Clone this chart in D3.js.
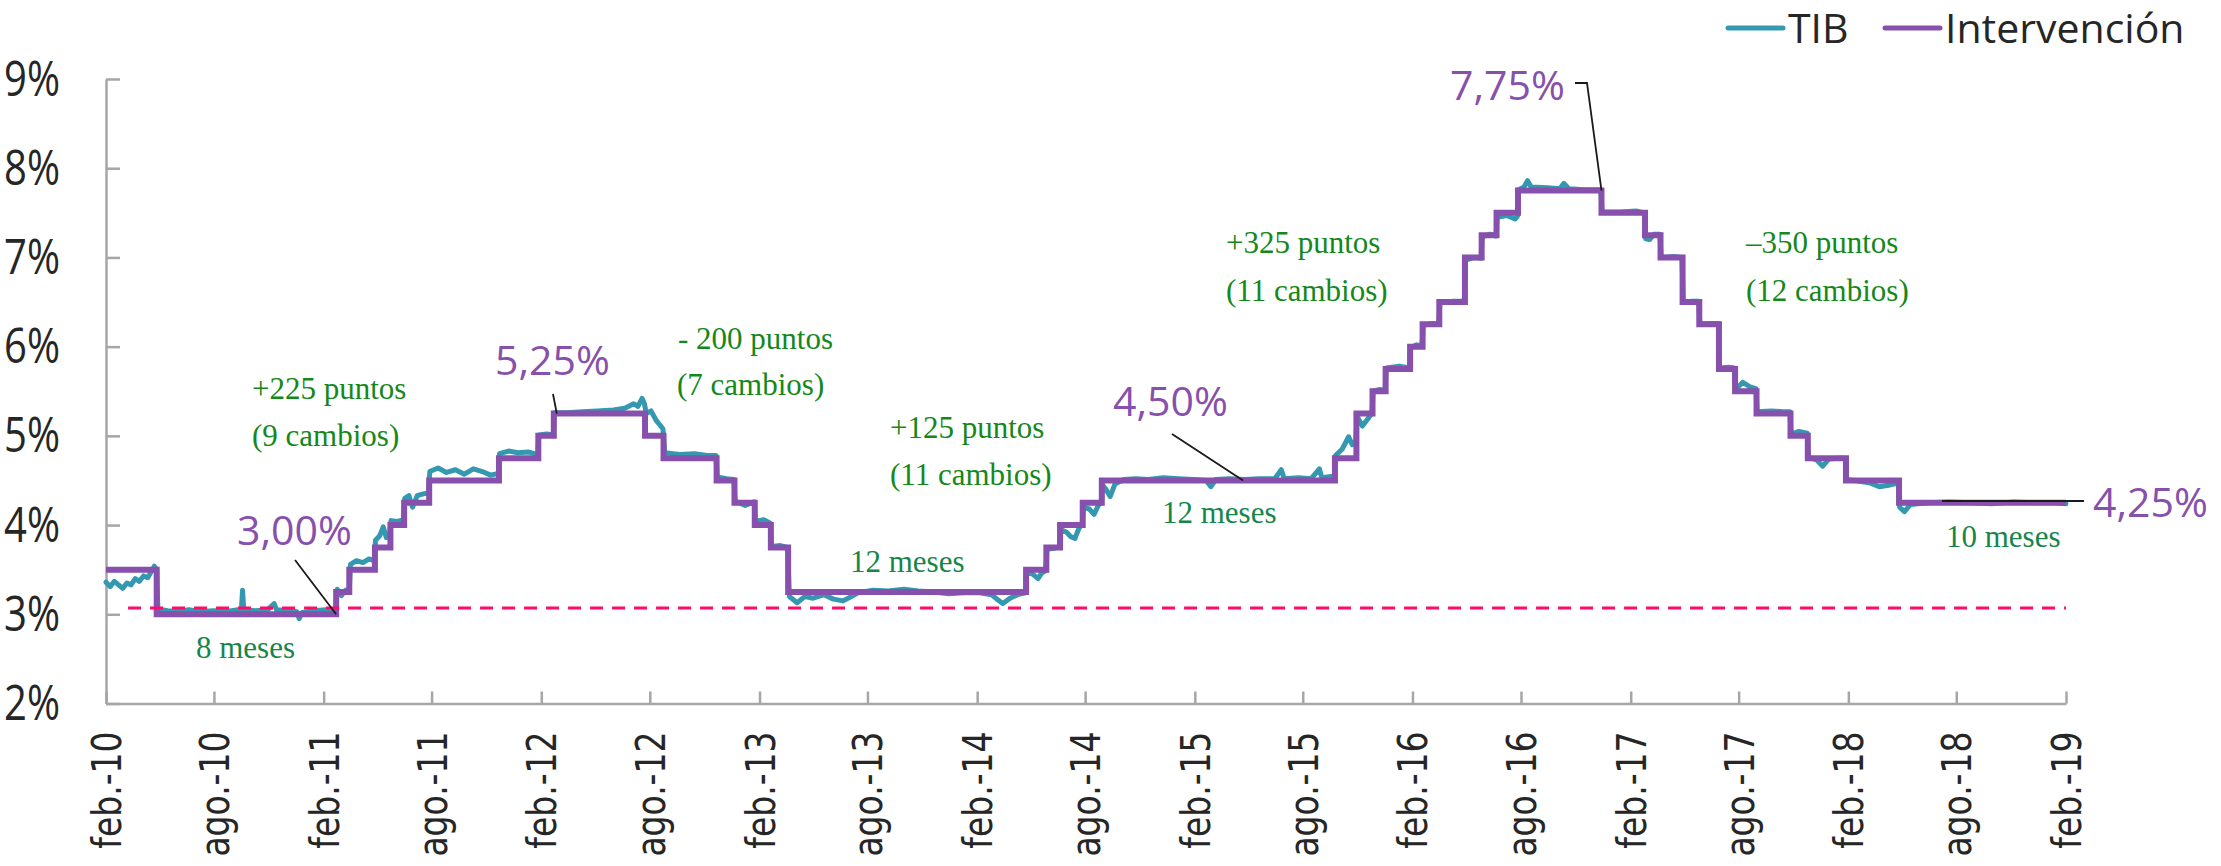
<!DOCTYPE html>
<html>
<head>
<meta charset="utf-8">
<script src="https://cdn.jsdelivr.net/npm/d3@7/dist/d3.min.js"></script>
<style>
  body { margin: 0; background: #fff; }
  svg { display: block; background: #fff; }
  .y-axis text { font-family: "Open Sans"; font-size: 50px; fill: #262626; }
  .x-axis text { font-family: "DejaVu Sans"; font-size: 33px; fill: #262626; }
  .axis path, .axis line { stroke: #a6a6a6; stroke-width: 2.5; }
  .legend text { font-family: "Open Sans"; font-size: 41px; fill: #262626; }
  .note { font-family: "Liberation Serif"; font-size: 31px; fill: #15881a; }
  .note.meses { fill: #15864a; }
  .big { font-family: "Open Sans"; font-size: 41px; fill: #8750ac; }
  .leader { stroke: #1a1a1a; stroke-width: 1.8; fill: none; }
</style>
</head>
<body>
<svg id="chart" width="2221" height="866"></svg>
<script>
// Tasa de intervencion (fecha del cambio, nivel)
var stepDates = ["2010-02-01", "2010-04-27", "2011-02-22", "2011-03-16", "2011-04-28", "2011-05-24",
    "2011-06-16", "2011-07-28", "2011-11-22", "2012-01-27", "2012-02-22", "2012-07-24", "2012-08-24",
    "2012-11-21", "2012-12-21", "2013-01-24", "2013-02-20", "2013-03-21", "2014-04-24", "2014-05-28",
    "2014-06-20", "2014-07-28", "2014-08-29", "2015-09-24", "2015-10-30", "2015-11-26", "2015-12-18",
    "2016-01-28", "2016-02-18", "2016-03-17", "2016-04-29", "2016-05-27", "2016-06-21", "2016-07-27",
    "2016-12-14", "2017-02-25", "2017-03-23", "2017-04-29", "2017-05-27", "2017-06-29", "2017-07-26",
    "2017-08-31", "2017-10-27", "2017-11-25", "2018-01-28", "2018-04-27", "2019-02-01"];
var stepRates = [3.50, 3.00, 3.25, 3.50, 3.75, 4.00, 4.25, 4.50, 4.75, 5.00, 5.25, 5.00, 4.75,
    4.50, 4.25, 4.00, 3.75, 3.25, 3.50, 3.75, 4.00, 4.25, 4.50, 4.75, 5.25, 5.50, 5.75,
    6.00, 6.25, 6.50, 7.00, 7.25, 7.50, 7.75, 7.50, 7.25, 7.00, 6.50, 6.25, 5.75, 5.50,
    5.25, 5.00, 4.75, 4.50, 4.25, 4.25];

// TIB (lectura aproximada del grafico)
var tib = [
    ["2010-02-01", 3.36], ["2010-02-08", 3.31], ["2010-02-15", 3.37], ["2010-02-22", 3.33], ["2010-03-01", 3.29],
    ["2010-03-08", 3.35], ["2010-03-15", 3.33], ["2010-03-22", 3.40], ["2010-03-29", 3.37], ["2010-04-05", 3.43],
    ["2010-04-12", 3.41], ["2010-04-19", 3.49], ["2010-04-23", 3.54], ["2010-04-27", 3.50],
    ["2010-04-29", 3.06], ["2010-05-15", 3.04], ["2010-06-01", 3.03], ["2010-06-20", 3.05], ["2010-07-10", 3.03],
    ["2010-08-01", 3.04], ["2010-08-20", 3.03], ["2010-09-10", 3.05], ["2010-09-16", 3.04], ["2010-09-18", 3.27],
    ["2010-09-20", 3.05], ["2010-10-10", 3.04], ["2010-10-30", 3.05], ["2010-11-10", 3.12], ["2010-11-14", 3.05],
    ["2010-12-05", 3.04], ["2010-12-18", 3.03], ["2010-12-22", 2.95], ["2010-12-27", 3.02], ["2011-01-15", 3.04],
    ["2011-02-05", 3.05], ["2011-02-21", 3.04],
    ["2011-02-24", 3.28], ["2011-03-03", 3.21], ["2011-03-10", 3.27], ["2011-03-16", 3.28],
    ["2011-03-18", 3.56], ["2011-03-28", 3.60], ["2011-04-08", 3.58], ["2011-04-18", 3.62], ["2011-04-27", 3.60],
    ["2011-04-29", 3.83], ["2011-05-06", 3.88], ["2011-05-12", 3.98], ["2011-05-17", 3.86], ["2011-05-23", 3.92],
    ["2011-05-25", 4.05], ["2011-06-05", 4.04], ["2011-06-15", 4.06],
    ["2011-06-17", 4.30], ["2011-06-24", 4.33], ["2011-06-30", 4.20], ["2011-07-08", 4.33], ["2011-07-18", 4.35],
    ["2011-07-27", 4.36],
    ["2011-07-29", 4.60], ["2011-08-12", 4.64], ["2011-08-26", 4.59], ["2011-09-10", 4.62], ["2011-09-25", 4.57],
    ["2011-10-10", 4.63], ["2011-10-25", 4.60], ["2011-11-08", 4.56], ["2011-11-21", 4.58],
    ["2011-11-23", 4.80], ["2011-12-08", 4.83], ["2011-12-24", 4.81], ["2012-01-10", 4.82], ["2012-01-26", 4.79],
    ["2012-01-28", 5.01], ["2012-02-10", 5.02], ["2012-02-21", 5.01],
    ["2012-02-23", 5.26], ["2012-03-15", 5.26], ["2012-04-10", 5.27], ["2012-05-05", 5.28], ["2012-06-01", 5.29],
    ["2012-06-20", 5.31], ["2012-07-05", 5.36], ["2012-07-12", 5.33], ["2012-07-19", 5.42], ["2012-07-23", 5.36],
    ["2012-07-26", 5.25], ["2012-08-03", 5.28], ["2012-08-12", 5.17], ["2012-08-23", 5.08],
    ["2012-08-26", 4.81], ["2012-09-20", 4.79], ["2012-10-15", 4.80], ["2012-11-05", 4.78], ["2012-11-20", 4.78],
    ["2012-11-22", 4.54], ["2012-12-08", 4.52], ["2012-12-20", 4.51],
    ["2012-12-22", 4.27], ["2013-01-08", 4.22], ["2013-01-23", 4.26],
    ["2013-01-25", 4.04], ["2013-02-08", 4.06], ["2013-02-19", 4.02],
    ["2013-02-21", 3.76], ["2013-03-08", 3.77], ["2013-03-20", 3.75],
    ["2013-03-23", 3.20], ["2013-04-05", 3.13], ["2013-04-18", 3.20], ["2013-05-02", 3.18], ["2013-05-20", 3.22],
    ["2013-06-05", 3.17], ["2013-06-21", 3.15], ["2013-07-05", 3.20], ["2013-07-16", 3.24], ["2013-08-10", 3.27],
    ["2013-09-05", 3.26], ["2013-10-01", 3.28], ["2013-10-25", 3.26], ["2013-11-20", 3.25], ["2013-12-15", 3.23],
    ["2014-01-10", 3.24], ["2014-02-05", 3.24], ["2014-02-25", 3.22], ["2014-03-08", 3.16], ["2014-03-16", 3.12],
    ["2014-03-28", 3.18], ["2014-04-10", 3.22], ["2014-04-23", 3.24],
    ["2014-04-25", 3.47], ["2014-05-05", 3.45], ["2014-05-14", 3.40], ["2014-05-20", 3.46], ["2014-05-27", 3.49],
    ["2014-05-29", 3.73], ["2014-06-10", 3.74], ["2014-06-19", 3.76],
    ["2014-06-21", 3.95], ["2014-07-01", 3.92], ["2014-07-08", 3.87], ["2014-07-15", 3.85], ["2014-07-22", 3.97],
    ["2014-07-27", 4.00],
    ["2014-07-29", 4.20], ["2014-08-08", 4.18], ["2014-08-16", 4.12], ["2014-08-23", 4.22], ["2014-08-28", 4.25],
    ["2014-08-30", 4.45], ["2014-09-05", 4.40], ["2014-09-12", 4.32], ["2014-09-20", 4.46], ["2014-10-05", 4.51],
    ["2014-10-25", 4.52], ["2014-11-15", 4.51], ["2014-12-10", 4.53], ["2015-01-05", 4.52], ["2015-01-30", 4.51],
    ["2015-02-20", 4.50], ["2015-02-28", 4.43], ["2015-03-08", 4.51], ["2015-04-01", 4.52], ["2015-04-25", 4.51],
    ["2015-05-20", 4.52], ["2015-06-15", 4.52], ["2015-06-26", 4.62], ["2015-07-01", 4.52], ["2015-07-25", 4.53],
    ["2015-08-15", 4.52], ["2015-08-29", 4.63], ["2015-09-02", 4.53], ["2015-09-23", 4.55],
    ["2015-09-25", 4.78], ["2015-10-06", 4.85], ["2015-10-17", 4.99], ["2015-10-23", 4.90], ["2015-10-29", 4.95],
    ["2015-10-31", 5.22], ["2015-11-09", 5.11], ["2015-11-18", 5.19], ["2015-11-25", 5.25],
    ["2015-11-27", 5.50], ["2015-12-08", 5.52], ["2015-12-17", 5.51],
    ["2015-12-19", 5.76], ["2016-01-10", 5.78], ["2016-01-27", 5.76],
    ["2016-01-29", 5.99], ["2016-02-08", 6.02], ["2016-02-17", 6.01],
    ["2016-02-19", 6.24], ["2016-03-05", 6.26], ["2016-03-16", 6.25],
    ["2016-03-18", 6.49], ["2016-04-10", 6.51], ["2016-04-28", 6.51],
    ["2016-04-30", 6.97], ["2016-05-15", 7.00], ["2016-05-26", 6.99],
    ["2016-05-28", 7.23], ["2016-06-10", 7.26], ["2016-06-20", 7.24],
    ["2016-06-22", 7.45], ["2016-07-08", 7.47], ["2016-07-22", 7.43], ["2016-07-26", 7.46],
    ["2016-07-28", 7.76], ["2016-08-06", 7.79], ["2016-08-12", 7.86], ["2016-08-18", 7.79], ["2016-09-15", 7.78],
    ["2016-10-05", 7.77], ["2016-10-12", 7.83], ["2016-10-20", 7.77], ["2016-11-15", 7.76], ["2016-12-13", 7.76],
    ["2016-12-15", 7.51], ["2017-01-15", 7.51], ["2017-02-10", 7.52], ["2017-02-24", 7.50],
    ["2017-02-26", 7.21], ["2017-03-05", 7.20], ["2017-03-12", 7.26], ["2017-03-22", 7.26],
    ["2017-03-24", 7.00], ["2017-04-15", 7.01], ["2017-04-28", 7.00],
    ["2017-04-30", 6.50], ["2017-05-15", 6.51], ["2017-05-26", 6.51],
    ["2017-05-28", 6.25], ["2017-06-15", 6.26], ["2017-06-28", 6.26],
    ["2017-06-30", 5.76], ["2017-07-15", 5.77], ["2017-07-25", 5.76],
    ["2017-07-27", 5.52], ["2017-08-08", 5.60], ["2017-08-20", 5.55], ["2017-08-30", 5.53],
    ["2017-09-01", 5.27], ["2017-09-25", 5.28], ["2017-10-15", 5.27], ["2017-10-26", 5.27],
    ["2017-10-28", 5.02], ["2017-11-10", 5.05], ["2017-11-24", 5.03],
    ["2017-11-26", 4.76], ["2017-12-10", 4.73], ["2017-12-20", 4.66], ["2017-12-30", 4.74], ["2018-01-15", 4.75],
    ["2018-01-27", 4.75],
    ["2018-01-29", 4.51], ["2018-02-20", 4.49], ["2018-03-10", 4.47], ["2018-03-25", 4.43], ["2018-04-12", 4.45],
    ["2018-04-26", 4.47],
    ["2018-04-28", 4.20], ["2018-05-06", 4.15], ["2018-05-16", 4.23], ["2018-06-15", 4.25], ["2018-07-20", 4.26],
    ["2018-08-25", 4.25], ["2018-09-30", 4.24], ["2018-11-05", 4.26], ["2018-12-10", 4.25], ["2019-01-15", 4.25],
    ["2019-02-01", 4.24]
];

// Linea de referencia punteada
var refLevel = 3.07;
var refStart = "2010-03-10";
var refEnd = "2019-02-01";

var tickDates = ["2010-02-01", "2010-08-01", "2011-02-01", "2011-08-01", "2012-02-01", "2012-08-01",
    "2013-02-01", "2013-08-01", "2014-02-01", "2014-08-01", "2015-02-01", "2015-08-01", "2016-02-01",
    "2016-08-01", "2017-02-01", "2017-08-01", "2018-02-01", "2018-08-01", "2019-02-01"];
var tickLabels = ["feb.-10", "ago.-10", "feb.-11", "ago.-11", "feb.-12", "ago.-12", "feb.-13", "ago.-13",
    "feb.-14", "ago.-14", "feb.-15", "ago.-15", "feb.-16", "ago.-16", "feb.-17", "ago.-17", "feb.-18",
    "ago.-18", "feb.-19"];
var yTicks = [2, 3, 4, 5, 6, 7, 8, 9];
var seriesNames = ["TIB", "Intervención"];
var colors = {tib: "#3499b0", policy: "#8750ac", ref: "#ff0a6a"};

var parse = d3.timeParse("%Y-%m-%d");
var svg = d3.select("#chart");

var x = d3.scaleTime()
    .domain([parse("2010-02-01"), parse("2019-02-01")])
    .range([106, 2066]);
var y = d3.scaleLinear()
    .domain([2, 9])
    .range([703.5, 79]);

// Axes
var xAxis = d3.axisBottom(x)
    .tickValues(tickDates.map(parse))
    .tickSizeInner(-12)
    .tickSizeOuter(0)
    .tickFormat(function (d, i) {
        return tickLabels[i];
    });
svg.append("g")
    .attr("class", "axis x-axis")
    .attr("transform", "translate(0," + y(2) + ")")
    .call(xAxis)
    .selectAll("text")
    .attr("transform", "rotate(-90) scale(1,1.22)")
    .attr("x", -28)
    .attr("y", 0)
    .attr("dy", "0.36em")
    .style("text-anchor", "end");

var yAxis = d3.axisLeft(y)
    .tickValues(yTicks)
    .tickSizeInner(-14)
    .tickSizeOuter(0)
    .tickFormat(function (d) {
        return d + "%";
    });
svg.append("g")
    .attr("class", "axis y-axis")
    .attr("transform", "translate(" + x.range()[0] + ",0)")
    .call(yAxis)
    .selectAll("text")
    .attr("x", 0)
    .attr("transform", "translate(-46,0) scale(0.8,1)");

// Series
var tibLine = d3.line()
    .x(function (d) { return x(parse(d[0])); })
    .y(function (d) { return y(d[1]); });
svg.append("path")
    .datum(tib)
    .attr("d", tibLine)
    .attr("fill", "none")
    .attr("stroke", colors.tib)
    .attr("stroke-width", 5)
    .attr("stroke-linejoin", "round")
    .attr("stroke-linecap", "round");

var policyLine = d3.line()
    .curve(d3.curveStepAfter)
    .x(function (d, i) { return x(parse(stepDates[i])); })
    .y(function (d) { return y(d); });
svg.append("path")
    .datum(stepRates)
    .attr("d", policyLine)
    .attr("fill", "none")
    .attr("stroke", colors.policy)
    .attr("stroke-width", 6)
    .attr("stroke-linejoin", "miter");

svg.append("line")
    .attr("x1", x(parse(refStart)))
    .attr("x2", x(parse(refEnd)))
    .attr("y1", y(refLevel))
    .attr("y2", y(refLevel))
    .attr("stroke", colors.ref)
    .attr("stroke-width", 3)
    .attr("stroke-dasharray", "13,9");

// Leader lines: one end on the series, the other next to its label
function pt(date, v) {
    return [x(parse(date)), y(v)];
}
var leaders = [
    [[295, 560], pt("2011-02-22", 3.00)],
    [[553, 394], pt("2012-02-27", 5.25)],
    [[1172, 434], pt("2015-04-23", 4.50)],
    [[1575, 83], [1587, 83], pt("2016-12-14", 7.75)],
    [pt("2018-07-08", 4.27), [2084, y(4.27)]]
];
svg.append("g").selectAll("polyline")
    .data(leaders)
    .enter()
    .append("polyline")
    .attr("class", "leader")
    .attr("points", function (d) { return d.join(" "); });

// Purple level labels
var bigLabels = [["3,00%", 237, 545], ["5,25%", 495, 375], ["4,50%", 1113, 416],
    ["7,75%", 1450, 100], ["4,25%", 2093, 517]];
svg.append("g").selectAll("text")
    .data(bigLabels)
    .enter()
    .append("text")
    .attr("class", "big")
    .attr("x", function (d) { return d[1]; })
    .attr("y", function (d) { return d[2]; })
    .text(function (d) { return d[0]; });

// Green notes
var notes = [
    ["+225 puntos", 252, 399, ""], ["(9 cambios)", 252, 446, ""],
    ["- 200 puntos", 678, 349, ""], ["(7 cambios)", 677, 395, ""],
    ["+125 puntos", 890, 438, ""], ["(11 cambios)", 890, 485, ""],
    ["+325 puntos", 1226, 253, ""], ["(11 cambios)", 1226, 301, ""],
    ["\u2013350 puntos", 1746, 253, ""], ["(12 cambios)", 1746, 301, ""],
    ["8 meses", 196, 658, "meses"], ["12 meses", 850, 572, "meses"],
    ["12 meses", 1162, 523, "meses"], ["10 meses", 1946, 547, "meses"]
];
svg.append("g").selectAll("text")
    .data(notes)
    .enter()
    .append("text")
    .attr("class", function (d) { return "note " + d[3]; })
    .attr("x", function (d) { return d[1]; })
    .attr("y", function (d) { return d[2]; })
    .text(function (d) { return d[0]; });

// Legend
var legend = svg.append("g").attr("class", "legend");
var legendX = [1728, 1885];
seriesNames.forEach(function (name, i) {
    legend.append("line")
        .attr("x1", legendX[i])
        .attr("x2", legendX[i] + 55)
        .attr("y1", 28)
        .attr("y2", 28)
        .attr("stroke", i === 0 ? colors.tib : colors.policy)
        .attr("stroke-width", 5)
        .attr("stroke-linecap", "round");
    legend.append("text")
        .attr("x", legendX[i] + 60)
        .attr("y", 43)
        .text(name);
});
</script>
</body>
</html>
